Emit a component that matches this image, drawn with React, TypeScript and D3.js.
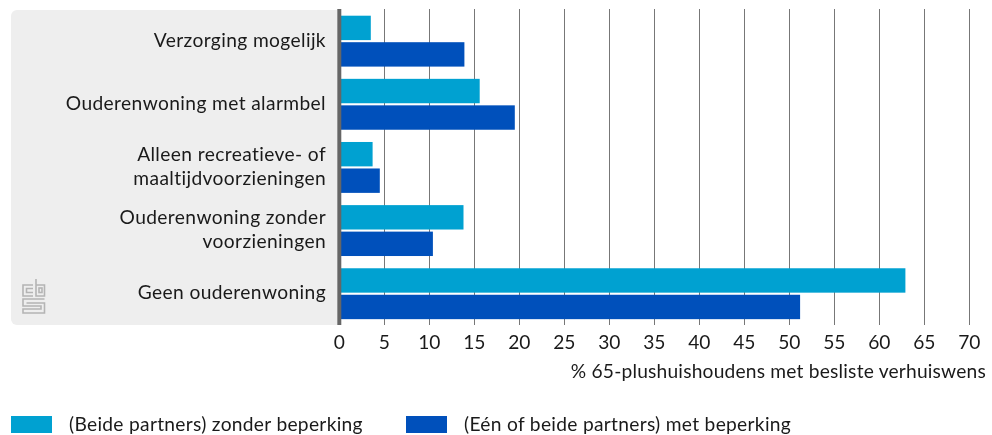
import React from "react";
import * as d3 from "d3";

const categories = [
  ["Verzorging mogelijk"],
  ["Ouderenwoning met alarmbel"],
  ["Alleen recreatieve- of", "maaltijdvoorzieningen"],
  ["Ouderenwoning zonder", "voorzieningen"],
  ["Geen ouderenwoning"],
];
const zonderBeperking = [3.5, 15.6, 3.7, 13.8, 62.9];
const metBeperking = [13.9, 19.5, 4.5, 10.4, 51.2];
const ticks = d3.range(0, 75, 5);
const seriesNames = ["(Beide partners) zonder beperking", "(Eén of beide partners) met beperking"];
const colors = ["#00a1d1", "#0050bb"];
const axisTitle = "% 65-plushuishoudens met besliste verhuiswens";

const font = "Lato, sans-serif";
const ink = "#1a1a1a";
const fs = 19.2;

export default function App() {
  const x = d3.scaleLinear().domain([0, 70]).range([339.3, 969.3]);
  const y = d3.scaleBand<number>().domain(d3.range(5)).range([10, 325.7]);
  const barH = 24.4;
  const labelLine = 24.5;
  return (
    <svg width={992} height={435} style={{ position: "fixed", left: 0, top: 0, display: "block" }} fontFamily={font}>
      <path d="M337 10H17a6 6 0 0 0-6 6V319a6 6 0 0 0 6 6H337Z" fill="#eeeeee" />
      {ticks.slice(1).map((t) => (
        <line key={t} x1={Math.round(x(t)) + 0.5} x2={Math.round(x(t)) + 0.5} y1={9} y2={325} stroke="#777" strokeWidth={1} />
      ))}
      {categories.map((c, i) => {
        const top = y(i)!;
        const mid = top + 30;
        return (
          <g key={i}>
            <rect x={341} y={top + 5.7} width={x(zonderBeperking[i]) - 341} height={barH} fill={colors[0]} />
            <rect x={341} y={top + 32.2} width={x(metBeperking[i]) - 341} height={barH} fill={colors[1]} />
            {c.map((l, j) => (
              <text key={j} x={326} y={mid + 6.5 + (j - (c.length - 1) / 2) * labelLine} textAnchor="end" fontSize={fs} letterSpacing={0.38} fill={ink}>
                {l}
              </text>
            ))}
          </g>
        );
      })}
      <line x1={339.3} x2={339.3} y1={9} y2={325} stroke="#666" strokeWidth={4} />
      {ticks.map((t) => (
        <text key={t} x={x(t)} y={349} textAnchor="middle" fontSize={fs} fill={ink}>
          {t}
        </text>
      ))}
      <text x={986} y={378} textAnchor="end" fontSize={fs} letterSpacing={0.2} fill={ink}>
        {axisTitle}
      </text>
      <g fill="none" stroke="#b4b4b4" strokeWidth={1.6}>
        <path d="M33 285H23V296H33" />
        <path d="M33 288.5H26.5V292.5H33" />
        <path d="M36 279V296H44.5V285H36" />
        <rect x={39} y={288} width={3} height={4.5} />
        <path d="M44.5 299H23V306H41V309H23V313H44.5V303H26.5" />
      </g>
      {seriesNames.map((s, i) => {
        const sx = [11, 406][i];
        return (
          <g key={s}>
            <rect x={sx} y={416} width={41} height={17} fill={colors[i]} />
            <text x={sx + 58} y={431} fontSize={fs} letterSpacing={0.3} fill={ink}>
              {s}
            </text>
          </g>
        );
      })}
    </svg>
  );
}
